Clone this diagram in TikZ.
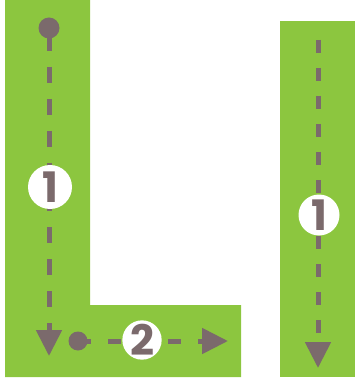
\documentclass[tikz,border=0pt]{standalone}
\usepackage{fontspec}
\newfontfamily\numfont{Poppins}
\usetikzlibrary{arrows.meta}
\definecolor{barg}{HTML}{8CC63F}
\definecolor{pathg}{HTML}{7B6A6C}
\tikzset{
  greenbar/.style={fill=barg, draw=none},
  pathline/.style={draw=pathg, line width=5pt, -{Triangle[width=25pt,length=26pt]}},
  startdot/.style={circle, fill=pathg, inner sep=0pt, minimum size=21pt},
  numcirc/.style={circle, fill=white, inner sep=0pt, minimum size=#1, text=pathg, font=\numfont\bfseries\fontsize{42}{42}\selectfont},
}
\begin{document}
\begin{tikzpicture}[x=1pt,y=-1pt]
\useasboundingbox (0,0) rectangle (356,379);
% bars
\fill[greenbar] (5,0) -- (90,0) -- (90,305) -- (241,305) -- (241,377) -- (5,377) -- cycle;
\fill[greenbar] (280,21) rectangle (355,377);
% left path 1
\node[startdot] (d1) at (49,28) {};
\coordinate (t1) at (49,356);
\draw[pathline, dash pattern=on 16pt off 16pt, dash phase=-7pt] (d1.center) -- (t1);
\node[numcirc=44pt] (n1) at (50,187) {1};
% path 2
\node[startdot, minimum size=19pt] (d2) at (78,341) {};
\coordinate (t2) at (228,341);
\draw[pathline, dash pattern=on 13pt off 17pt] (d2.center) -- (t2);
\node[numcirc=39pt] (n2) at (142,340) {2};
% right path
\coordinate (s3) at (318,40);
\coordinate (t3) at (318,368);
\draw[pathline, dash pattern=on 13pt off 15pt] (s3) -- (t3);
\node[numcirc=41pt] (n3) at (319,215) {1};
\end{tikzpicture}
\end{document}
